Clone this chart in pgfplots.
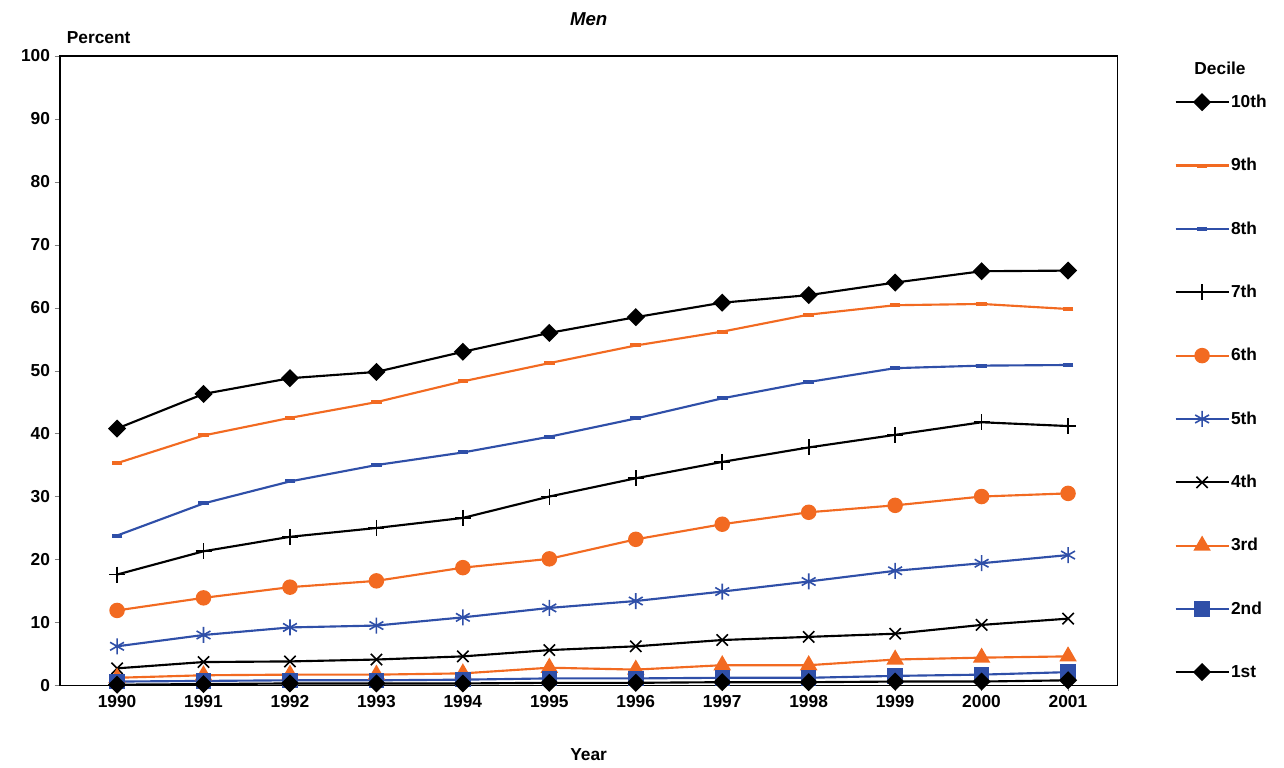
\documentclass[border=0pt]{standalone}
\usepackage{pgfplots}
\pgfplotsset{compat=1.18}
\usepackage{fontspec}
\setmainfont{Liberation Sans}
\definecolor{cb}{HTML}{2F4FA8}
\definecolor{co}{HTML}{F26A21}
\begin{document}
\begin{tikzpicture}
\begin{axis}[at={(0,0)},anchor=south west,scale only axis,width=793pt,height=472pt,
xmin=1989.34,xmax=2001.57,ymin=0,ymax=100,ytick={0,10,...,100},xtick={1990,...,2001},
/pgf/number format/assume math mode=true,
tick label style={font=\bfseries\fontsize{13}{15}\selectfont},
x tick label style={font=\bfseries\fontsize{13}{15}\selectfont,/pgf/number format/1000 sep={}},
xlabel={\textbf{Year}},xlabel style={font=\bfseries\fontsize{13}{15}\selectfont,yshift=-24pt},
tick align=outside,ytick pos=left,xtick pos=bottom,
major tick length=4pt,
axis line style={line width=1pt},
title={\textbf{\textit{Men}}},title style={font=\fontsize{14}{16}\selectfont,yshift=13pt},
every axis plot/.append style={line width=1.6pt},
legend style={draw=none,at={(1.050,0.945)},anchor=north west,font=\bfseries\fontsize{13}{15}\selectfont,
 row sep=34.6pt,nodes={inner sep=1pt}},
legend cell align=left,
legend image code/.code={\draw[#1] (0cm,0cm) -- (0.7cm,0cm) plot coordinates {(0.7cm,0cm)}; \draw[#1] (0.7cm,0cm) -- (1.4cm,0cm);},
]
\addplot[black,mark=square*,mark size=4pt,mark options={rotate=45}] coordinates {(1990,40.8)(1991,46.3)(1992,48.8)(1993,49.8)(1994,53)(1995,56)(1996,58.5)(1997,60.8)(1998,62)(1999,64)(2000,65.8)(2001,65.9)};
\addplot[co,mark=-,mark size=4pt,mark options={line width=3pt}] coordinates {(1990,35.3)(1991,39.7)(1992,42.5)(1993,45)(1994,48.3)(1995,51.2)(1996,54)(1997,56.2)(1998,58.9)(1999,60.4)(2000,60.6)(2001,59.8)};
\addplot[cb,mark=-,mark size=4pt,mark options={line width=3pt}] coordinates {(1990,23.8)(1991,28.9)(1992,32.4)(1993,35)(1994,37)(1995,39.5)(1996,42.4)(1997,45.6)(1998,48.2)(1999,50.4)(2000,50.8)(2001,50.9)};
\addplot[black,mark=+,mark size=6pt,mark options={line width=1.2pt}] coordinates {(1990,17.6)(1991,21.3)(1992,23.6)(1993,25)(1994,26.6)(1995,30)(1996,32.9)(1997,35.5)(1998,37.8)(1999,39.8)(2000,41.8)(2001,41.2)};
\addplot[co,mark=*,mark size=5pt] coordinates {(1990,11.9)(1991,13.9)(1992,15.6)(1993,16.6)(1994,18.7)(1995,20.1)(1996,23.2)(1997,25.6)(1998,27.5)(1999,28.6)(2000,30)(2001,30.5)};
\addplot[cb,mark=asterisk,mark size=6pt,mark options={line width=1.2pt}] coordinates {(1990,6.2)(1991,8)(1992,9.2)(1993,9.5)(1994,10.8)(1995,12.3)(1996,13.4)(1997,14.9)(1998,16.5)(1999,18.2)(2000,19.4)(2001,20.7)};
\addplot[black,mark=x,mark size=6pt,mark options={line width=1.2pt}] coordinates {(1990,2.7)(1991,3.7)(1992,3.8)(1993,4.1)(1994,4.6)(1995,5.6)(1996,6.2)(1997,7.2)(1998,7.7)(1999,8.2)(2000,9.6)(2001,10.6)};
\addplot[co,mark=triangle*,mark size=6pt] coordinates {(1990,1.2)(1991,1.6)(1992,1.7)(1993,1.7)(1994,1.9)(1995,2.8)(1996,2.5)(1997,3.2)(1998,3.2)(1999,4.1)(2000,4.4)(2001,4.6)};
\addplot[cb,mark=square*,mark size=5pt] coordinates {(1990,0.6)(1991,0.7)(1992,0.8)(1993,0.8)(1994,0.9)(1995,1.1)(1996,1.1)(1997,1.2)(1998,1.2)(1999,1.5)(2000,1.7)(2001,2.1)};
\addplot[black,mark=square*,mark size=4pt,mark options={rotate=45}] coordinates {(1990,0.1)(1991,0.2)(1992,0.3)(1993,0.3)(1994,0.3)(1995,0.4)(1996,0.4)(1997,0.5)(1998,0.5)(1999,0.6)(2000,0.6)(2001,0.8)};
\legend{10th,9th,8th,7th,6th,5th,4th,3rd,2nd,1st}
\end{axis}
\node[font=\bfseries\fontsize{13}{15}\selectfont] at (29pt,486pt) {Percent};
\node[font=\bfseries\fontsize{13}{15}\selectfont] at (870pt,463pt) {Decile};
\useasboundingbox (-45pt,-61.5pt) rectangle (918pt,514pt);
\end{tikzpicture}
\end{document}
